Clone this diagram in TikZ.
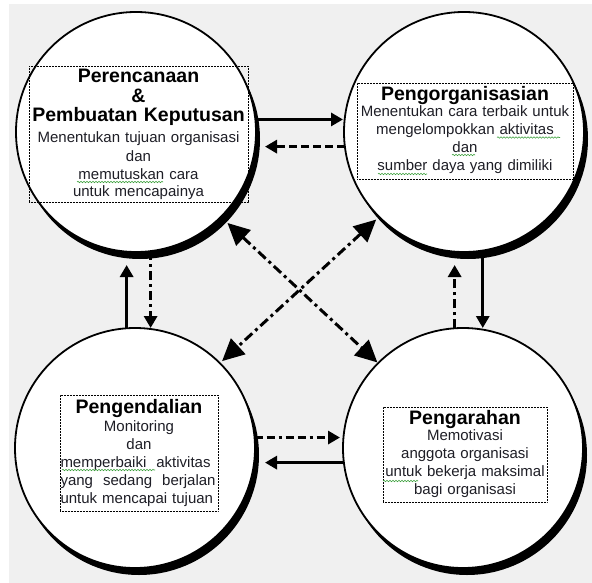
\documentclass[tikz,border=0pt]{standalone}
\usepackage{fontspec}
\setmainfont{Liberation Sans}
\usetikzlibrary{arrows.meta,shadows,decorations.pathmorphing,calc}
\definecolor{bggrey}{HTML}{F0F0F0}
\definecolor{bodytxt}{HTML}{1E1E26}
\definecolor{squiggle}{HTML}{3CA03C}
\begin{document}
\begin{tikzpicture}[x=1pt,y=-1pt,
  bub/.style={circle, draw=black, line width=1.8pt, fill=white, minimum size=240pt,
    inner sep=0pt, outer sep=0pt,
    drop shadow={shadow xshift=4pt, shadow yshift=-7pt, fill=black, opacity=1}},
  tbox/.style={draw=black, line width=0.7pt, dash pattern=on 0.8pt off 0.7pt,
    inner sep=0pt, outer sep=0pt},
  ttl/.style={anchor=base, inner sep=0pt, text width=#1, align=center,
    font=\bfseries\fontsize{19.5}{19.5}\selectfont, text=black},
  bdy/.style={anchor=base, inner sep=0pt, text width=#1, align=center,
    font=\fontsize{15}{18}\selectfont, text=bodytxt},
  solidarr/.style={line width=3.2pt, -{Triangle[length=12pt,width=13pt]}},
  dasharr/.style={line width=3pt, dash pattern=on 8pt off 4pt, -{Triangle[length=12pt,width=13pt]}},
  dashmixarr/.style={line width=3pt, dash pattern=on 8pt off 4pt on 8pt off 4pt on 3pt off 4pt, -{Triangle[length=12pt,width=13pt]}},
  dashdotarr/.style={line width=3pt, dash pattern=on 9pt off 4pt on 3pt off 4pt, -{Triangle[length=12pt,width=13pt]}},
  diagarr/.style={line width=3pt, dash pattern=on 10pt off 4pt on 3pt off 4pt,
    {Triangle[length=22pt,width=21pt]}-{Triangle[length=22pt,width=21pt]}},
  squig/.style={draw=squiggle, line width=0.6pt, decorate,
    decoration={snake, segment length=3pt, amplitude=0.7pt}}
]
\useasboundingbox (0,0) rectangle (592,583);
\fill[white] (0,0) rectangle (592,583);
\fill[bggrey] (9,4) rectangle (592,583);

% circles
\node[bub] (TL) at (136,132) {};
\node[bub] (TR) at (464,132) {};
\node[bub] (BL) at (135,448) {};
\node[bub] (BR) at (463,448) {};

% horizontal arrows
\draw[solidarr, shorten >=1pt] (TL.6) -- (TL.6 -| TR.west);
\draw[dasharr, shorten >=9pt] (TR.187) -- (TR.187 -| TL.east);
\draw[dashmixarr, shorten >=3pt] (BL.5) -- (BL.5 -| BR.west);
\draw[solidarr, shorten >=10pt] (BR.187) -- (BR.187 -| BL.east);

% vertical arrows
\draw[solidarr, shorten >=13pt] (BL.94) -- (BL.94 |- TL.south);
\draw[dashdotarr] (TL.-83) -- (TL.-83 |- BL.north);
\draw[dashdotarr, shorten >=13pt] (BR.94) -- (BR.94 |- TR.south);
\draw[solidarr] (TR.-81) -- (TR.-81 |- BR.north);

% diagonal arrows
\draw[diagarr, shorten <=9pt, shorten >=1pt] (TL.-45) -- (BR.135);
\draw[diagarr, shorten <=4pt, shorten >=3pt] (TR.225) -- (BL.45);

% text boxes
\node[tbox, minimum width=219pt, minimum height=136pt] (TLbox) at (138.5,134) {};
\node[tbox, minimum width=216pt, minimum height=96pt] (TRbox) at (465,131) {};
\node[tbox, minimum width=158pt, minimum height=116pt] (BLbox) at (139,453) {};
\node[tbox, minimum width=164pt, minimum height=95pt] (BRbox) at (465,454.5) {};

% texts
\node[ttl=219pt] (TLt) at (138.5,83) {Perencanaan\\ \&\\ Pembuatan Keputusan};
\node[bdy=219pt] (TLb) at (138.5,143) {Menentukan tujuan organisasi\\ dan\\ memutuskan cara\\ untuk mencapainya};

\node[ttl=216pt] (TRt) at (465,101) {Pengorganisasian};
\node[bdy=216pt] (TRb) at (465,117) {Menentukan cara terbaik untuk\\ mengelompokkan aktivitas\\ dan\\ sumber daya yang dimiliki};

\node[ttl=158pt] (BLt) at (139,413) {Pengendalian};
\node[bdy=158pt] (BLb) at (139,431) {Monitoring\\ dan\\
  \makebox[157pt][s]{memperbaiki\ \ aktivitas}\\
  \makebox[157pt][s]{yang\ \ sedang\ \ berjalan}\\
  \makebox[157pt][s]{untuk mencapai tujuan}};

\node[ttl=164pt] (BRt) at (465,424) {Pengarahan};
\node[bdy=164pt] (BRb) at (465,440) {Memotivasi\\ anggota organisasi\\ untuk bekerja maksimal\\ bagi organisasi};

% spell-check squiggles
\draw[squig] (77,182) -- (163,182);
\draw[squig] (497,137.5) -- (560,137.5);
\draw[squig] (452,155) -- (475,155);
\draw[squig] (378,174) -- (427,174);
\draw[squig] (62,470) -- (155,470);
\draw[squig] (383,481) -- (418,481);
\end{tikzpicture}
\end{document}
